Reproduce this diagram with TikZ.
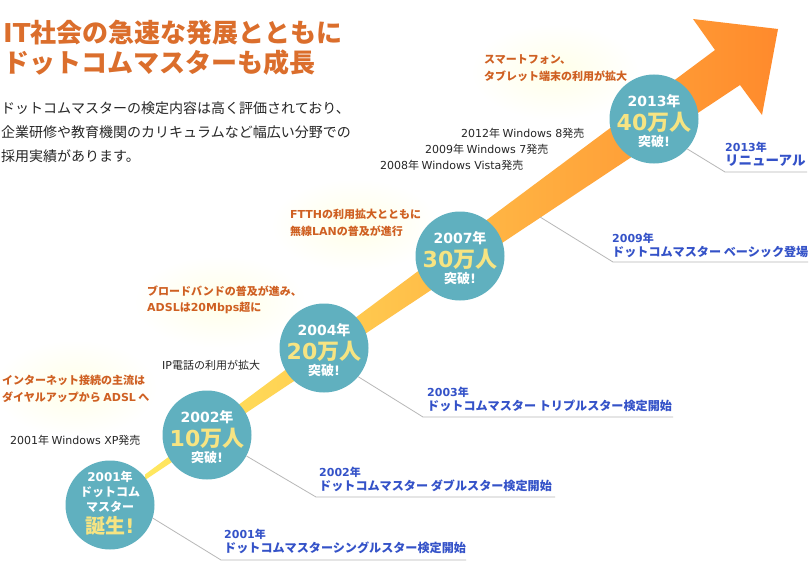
\documentclass[tikz,border=0pt]{standalone}
\usepackage{fontspec}
\setmainfont{Noto Sans CJK JP}
\newfontfamily\vd{DejaVu Sans}
\definecolor{badgeteal}{RGB}{96,176,191}
\definecolor{numyellow}{RGB}{246,228,130}
\definecolor{headorange}{RGB}{219,110,44}
\definecolor{noteorange}{RGB}{207,96,34}
\definecolor{mileblue}{RGB}{52,82,200}
\definecolor{tailyellow}{RGB}{255,232,96}
\definecolor{tiporange}{RGB}{255,138,44}
\newcommand{\yr}[1]{{\fontsize{14}{20}\selectfont\bfseries\vd #1}{\fontsize{14}{20}\selectfont\bfseries 年}}
\newcommand{\cnt}[1]{{\fontsize{22}{20}\selectfont\bfseries\color{numyellow}{\vd #1}万人}}
\newcommand{\tp}{{\fontsize{13}{20}\selectfont\bfseries 突破{\vd !}}}
\newcommand{\my}[1]{{\fontsize{11}{13}\selectfont\vd #1}{\fontsize{11}{13}\selectfont 年}}
\tikzset{badge/.style={circle,fill=badgeteal,minimum size=89pt,inner sep=0pt},
badgetext/.style={inner sep=0pt,align=center,text=white,font=\fontsize{14}{20}\selectfont},
note/.style={anchor=west,inner sep=0pt,align=left,text=noteorange,font=\fontsize{11}{16.5}\selectfont\bfseries},
event/.style={anchor=west,inner sep=0pt,text=black!85,font=\fontsize{11}{14}\selectfont},
mile/.style={anchor=west,inner sep=0pt,align=left,text=mileblue,font=\fontsize{12.1}{14}\selectfont\bfseries},
glow/.style={inner color=yellow!9,outer color=white},
rule/.style={draw=black!28,line width=.8pt}}
\begin{document}
\begin{tikzpicture}[x=1pt,y=-1pt]
\useasboundingbox[fill=white] (0,0) rectangle (810,583);
\shade[glow] (75,388) ellipse (82 and 48);
\shade[glow] (220,302) ellipse (86 and 46);
\shade[glow] (355,225) ellipse (84 and 46);
\shade[glow] (555,72) ellipse (84 and 48);
\shade[left color=tailyellow,right color=tiporange] (145,474.5) -- (715,50) -- (693,19) -- (778,29) -- (762,115) -- (740,85) -- (145,480) -- cycle;
\node[badge](b2001) at (110,505) {};
\node[badge](b2002) at (207,435) {};
\node[badge](b2004) at (324,348) {};
\node[badge](b2007) at (460,256) {};
\node[badge](b2013) at (654,119) {};
\node[badgetext,font=\fontsize{12}{15}\selectfont\bfseries](t2001) at (110,503.5) {{\vd 2001}年\\ドットコム\\マスター\\[3pt]{\fontsize{20}{20}\selectfont\color{numyellow}誕生{\vd !}}};
\node[badgetext](t2002) at (207,437) {\yr{2002}\\[4pt]\cnt{10}\\[-4pt]\tp};
\node[badgetext](t2004) at (324,350) {\yr{2004}\\[4pt]\cnt{20}\\[-4pt]\tp};
\node[badgetext](t2007) at (460,258) {\yr{2007}\\[4pt]\cnt{30}\\[-4pt]\tp};
\node[badgetext](t2013) at (654,121) {\yr{2013}\\[4pt]\cnt{40}\\[-4pt]\tp};
\node[anchor=west,inner sep=0pt,text=headorange,align=left,font=\fontsize{26}{30}\selectfont\bfseries](title) at (3,48) {{\vd IT}社会の急速な発展とともに\\ドットコムマスターも成長};
\node[anchor=west,inner sep=0pt,align=left,text=black!85,font=\fontsize{14}{24}\selectfont](intro) at (1,132) {ドットコムマスターの検定内容は高く評価されており、\\企業研修や教育機関のカリキュラムなど幅広い分野での\\採用実績があります。};
\node[note](n2013) at (484,68) {スマートフォン、\\タブレット端末の利用が拡大};
\node[note](n2007) at (290,223) {{\vd FTTH}の利用拡大とともに\\無線{\vd LAN}の普及が進行};
\node[note](n2004) at (147,300) {ブロードバンドの普及が進み、\\{\vd ADSL}は{\vd 20Mbps}超に};
\node[note](n2001) at (2,389) {インターネット接続の主流は\\ダイヤルアップから {\vd ADSL} へ};
\node[event](w8) at (461,133) {{\vd 2012}年 {\vd Windows 8}発売};
\node[event](w7) at (425,149) {{\vd 2009}年 {\vd Windows 7}発売};
\node[event](wv) at (380,165) {{\vd 2008}年 {\vd Windows Vista}発売};
\node[event](ip) at (162,365) {{\vd IP}電話の利用が拡大};
\node[event](xp) at (10,440) {{\vd 2001}年 {\vd Windows XP}発売};
\coordinate (e1) at (221,560); \coordinate (f1) at (466,560);
\coordinate (e2) at (316,497); \coordinate (f2) at (555,497);
\coordinate (e3) at (423,417); \coordinate (f3) at (673,417);
\coordinate (s4) at (540,217); \coordinate (e4) at (613,262); \coordinate (f4) at (808,262);
\coordinate (e5) at (725,172); \coordinate (f5) at (807,172);
\draw[rule] (b2001.-17) -- (e1) -- (f1);
\draw[rule] (b2002.-28) -- (e2) -- (f2);
\draw[rule] (b2004.-40) -- (e3) -- (f3);
\draw[rule] (s4) -- (e4) -- (f4);
\draw[rule] (b2013.-42) -- (e5) -- (f5);
\node[mile](m2001) at (224,541) {\my{2001}\\ドットコムマスターシングルスター検定開始};
\node[mile](m2002) at (319,479) {\my{2002}\\ドットコムマスター ダブルスター検定開始};
\node[mile](m2003) at (427,399) {\my{2003}\\ドットコムマスター トリプルスター検定開始};
\node[mile](m2009) at (612,245) {\my{2009}\\ドットコムマスター ベーシック登場};
\node[mile](m2013) at (725,154) {\my{2013}\\{\fontsize{13.5}{15}\selectfont リニューアル}};
\end{tikzpicture}
\end{document}
